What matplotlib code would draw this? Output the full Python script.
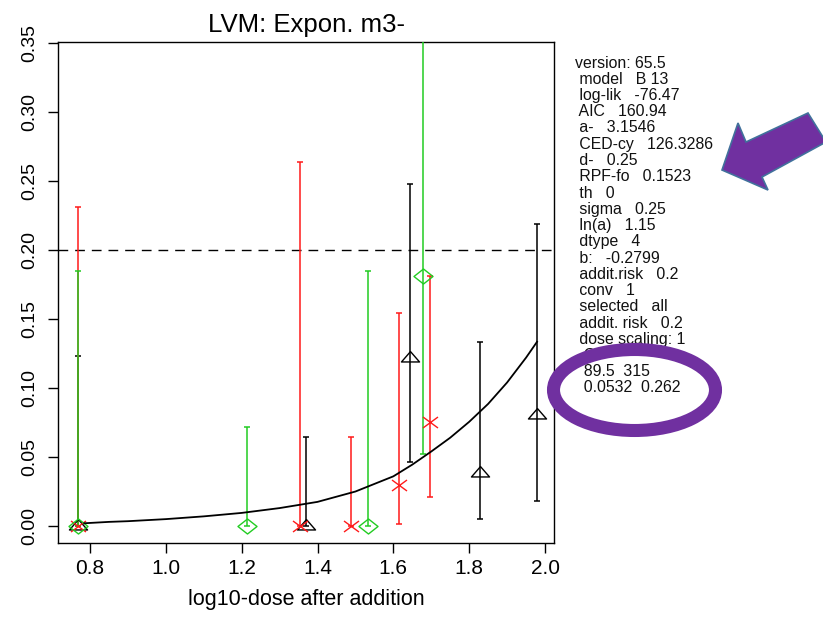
import matplotlib
matplotlib.use("Agg")
import matplotlib.pyplot as plt
from matplotlib.path import Path
from matplotlib.patches import Ellipse, Polygon
import numpy as np

plt.rcParams['font.family'] = ['Liberation Sans', 'DejaVu Sans']

# ---- observed response fractions per subgroup (log10 dose, value, CI low, CI high)
black_x = [0.768, 1.370, 1.644, 1.829, 1.979]
black_y = [0.0, 0.0, 0.122, 0.0386, 0.0806]
black_lo = [0.0, 0.0, 0.0466, 0.005, 0.018]
black_hi = [0.123, 0.0646, 0.2475, 0.133, 0.219]

red_x = [0.768, 1.354, 1.489, 1.615, 1.697]
red_y = [0.0, 0.0, 0.0, 0.0300, 0.0754]
red_lo = [0.0, 0.0, 0.0, 0.0015, 0.021]
red_hi = [0.2315, 0.264, 0.0646, 0.154, 0.181]

green_x = [0.768, 1.214, 1.533, 1.679]
green_y = [0.0, 0.0, 0.0, 0.1815]
green_lo = [0.0, 0.0, 0.0, 0.052]
green_hi = [0.185, 0.0718, 0.185, 0.40]

# ---- fitted model curve
curve_x = [0.785, 0.85, 0.90, 1.00, 1.10, 1.20, 1.30, 1.40, 1.50, 1.60,
           1.65, 1.70, 1.75, 1.80, 1.85, 1.90, 1.95, 1.979]
curve_y = [0.002, 0.003, 0.0035, 0.005, 0.007, 0.0095, 0.013, 0.0175, 0.025,
           0.036, 0.0445, 0.054, 0.064, 0.0755, 0.0885, 0.104, 0.122, 0.1335]

ces_level = 0.2

title = "LVM: Expon. m3-"
xlabel = "log10-dose after addition"
xticks = [0.8, 1.0, 1.2, 1.4, 1.6, 1.8, 2.0]
xtick_labels = ["0.8", "1.0", "1.2", "1.4", "1.6", "1.8", "2.0"]
yticks = [0.0, 0.05, 0.10, 0.15, 0.20, 0.25, 0.30, 0.35]
ytick_labels = ["0.00", "0.05", "0.10", "0.15", "0.20", "0.25", "0.30", "0.35"]

stats_lines = [
    "version: 65.5",
    " model   B 13",
    " log-lik   -76.47",
    " AIC   160.94",
    " a-   3.1546",
    " CED-cy   126.3286",
    " d-   0.25",
    " RPF-fo   0.1523",
    " th   0",
    " sigma   0.25",
    " ln(a)   1.15",
    " dtype   4",
    " b:   -0.2799",
    " addit.risk   0.2",
    " conv   1",
    " selected   all",
    " addit. risk   0.2",
    " dose scaling: 1",
    "  CI",
    "  89.5  315",
    "  0.0532  0.262",
]

W, H = 823, 617
fig = plt.figure(figsize=(W / 100, H / 100), dpi=100)
fig.patch.set_facecolor("white")


def fx(px):
    return px / W


def fy(py):
    return 1 - py / H


ax = fig.add_axes([fx(58), fy(543), fx(554) - fx(58), fy(42) - fy(543)])
ax.set_xlim(0.7156, 2.0237)
ax.set_ylim(-0.0123, 0.3507)

# marker shapes (flattened like the output device)
tri = Path([(0, 6.9), (9, -3.45), (-9, -3.45), (0, 6.9)],
           [Path.MOVETO, Path.LINETO, Path.LINETO, Path.CLOSEPOLY])
cross = Path([(-7.5, -5.5), (7.5, 5.5), (-7.5, 5.5), (7.5, -5.5)],
             [Path.MOVETO, Path.LINETO, Path.MOVETO, Path.LINETO])
diam = Path([(-9.5, 0), (0, 7.5), (9.5, 0), (0, -7.5), (-9.5, 0)],
            [Path.MOVETO, Path.LINETO, Path.LINETO, Path.LINETO, Path.CLOSEPOLY])

RED = "#ff1a1a"
GREEN = "#22cc22"
BLACK = "#000000"

groups = [
    (black_x, black_y, black_lo, black_hi, BLACK, tri, 13.0),
    (red_x, red_y, red_lo, red_hi, RED, cross, 10.8),
    (green_x, green_y, green_lo, green_hi, GREEN, diam, 13.7),
]
for gx, gy, glo, ghi, col, mk, ms in groups:
    gx = np.asarray(gx); gy = np.asarray(gy)
    err = [gy - np.asarray(glo), np.asarray(ghi) - gy]
    ax.errorbar(gx, gy, yerr=err, fmt='none', ecolor=col, elinewidth=1.1,
                capsize=2, capthick=1.1, zorder=3)
for gx, gy, glo, ghi, col, mk, ms in groups:
    ax.plot(gx, gy, linestyle='none', marker=mk, ms=ms, mfc='none',
            mec=col, mew=1.0, zorder=4)

ax.plot(curve_x, curve_y, color="black", lw=1.3, zorder=5)
ax.axhline(ces_level, color="black", lw=1.0, linestyle=(0, (7, 5)), zorder=2)

ax.set_xticks(xticks)
ax.set_xticklabels(xtick_labels, fontsize=15)
ax.set_yticks(yticks)
ax.set_yticklabels(ytick_labels, fontsize=14, rotation=90, va='center')
ax.tick_params(axis='both', direction='out', length=7.2, width=1.0, color='black')
ax.tick_params(axis='x', pad=4)
ax.tick_params(axis='y', pad=7)
for s in ax.spines.values():
    s.set_linewidth(1.0)
    s.set_color("black")

ax.set_title(title, fontsize=18.5, pad=7.5)
ax.set_xlabel(xlabel, fontsize=15.5, labelpad=8)

# model summary panel
for i, line in enumerate(stats_lines):
    fig.text(fx(575), fy(63 + 16.25 * i), line, fontsize=11.4, ha='left',
             va='center', color="#111111")

# highlight ring around the confidence interval
ring = Ellipse((fx(634.5), fy(390)), fx(162), 81 / H, facecolor='none',
               edgecolor="#7030a0", lw=9.4, transform=fig.transFigure,
               zorder=10)
fig.add_artist(ring)

# block arrow pointing at the relative potency factor
arrow_px = [(722, 170), (738, 123), (746, 142), (808, 113), (826, 142),
            (762, 177), (768, 190)]
arrow = Polygon([(fx(a), fy(b)) for a, b in arrow_px], closed=True,
                facecolor="#7030a0", edgecolor="#41719c", lw=1.2,
                transform=fig.transFigure, zorder=10)
fig.add_artist(arrow)

fig.savefig("out.png", dpi=100, facecolor="white")
